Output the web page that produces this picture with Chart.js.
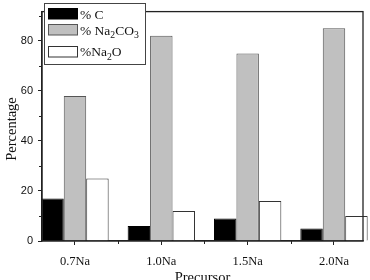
<!DOCTYPE html>
<html>
<head>
<meta charset="utf-8">
<script src="https://cdn.jsdelivr.net/npm/chart.js@4/dist/chart.umd.min.js"></script>
<style>
html,body{margin:0;padding:0;background:#fff;}
#wrap{width:370px;height:280px;position:relative;}
</style>
</head>
<body>
<div id="wrap"><canvas id="c" width="370" height="280"></canvas></div>
<script>
const categories = ['0.7Na', '1.0Na', '1.5Na', '2.0Na'];
const seriesNames = ['% C', '% Na2CO3', '%Na2O'];
const carbon = [17, 6, 9, 5];
const carbonate = [58, 82, 75, 85];
const oxide = [25, 12, 16, 10];
const yTickValues = [0, 20, 40, 60, 80];
const yMinorValues = [10, 30, 50, 70, 90];
const xTitle = 'Precursor';
const yTitle = 'Percentage';

const fills = ['#000000', '#c0c0c0', '#ffffff'];
const borders = ['#000000', '#555555', '#333333'];
const seriesValues = [carbon, carbonate, oxide];

const datasets = seriesValues.map((vals, k) => ({
  label: seriesNames[k],
  data: vals.map((v, i) => ({x: i, y: v})),
  backgroundColor: fills[k],
  borderColor: borders[k],
  borderWidth: 1,
  borderSkipped: 'bottom',
  clip: false
}));

function drawFormula(ctx, text, x, y, size) {
  let cx = x;
  const parts = text.match(/[A-Za-z%\s]+|\d+/g) || [];
  parts.forEach(p => {
    if (/^\d+$/.test(p)) {
      ctx.font = (size * 0.72) + 'px "Liberation Serif", serif';
      ctx.fillText(p, cx, y + size * 0.28);
      cx += ctx.measureText(p).width;
    } else {
      ctx.font = size + 'px "Liberation Serif", serif';
      ctx.fillText(p, cx, y);
      cx += ctx.measureText(p).width;
    }
  });
}

const decor = {
  id: 'decor',
  afterDatasetsDraw(chart) {
    const {ctx, chartArea: a, scales} = chart;
    ctx.save();
    ctx.strokeStyle = '#222';
    ctx.lineWidth = 1.3;
    ctx.strokeRect(a.left, a.top, a.right - a.left, a.bottom - a.top);
    ctx.lineWidth = 1;
    ctx.beginPath();
    yMinorValues.forEach(v => {
      const py = Math.round(scales.y.getPixelForValue(v)) + 0.5;
      if (py > a.top + 1) { ctx.moveTo(a.left - 3, py); ctx.lineTo(a.left, py); }
    });
    for (let i = 0; i < categories.length - 1; i++) {
      const px = Math.round(scales.x.getPixelForValue(i + 0.5)) + 0.5;
      ctx.moveTo(px, a.bottom); ctx.lineTo(px, a.bottom + 3);
    }
    ctx.stroke();
    const lx = 44.5, ly = 3.5, lw = 101, lh = 61;
    ctx.fillStyle = '#fff';
    ctx.fillRect(lx, ly, lw, lh);
    ctx.strokeStyle = '#444';
    ctx.lineWidth = 1;
    ctx.strokeRect(lx, ly, lw, lh);
    const rows = [{sy: 8.5, ty: 18.5}, {sy: 24.5, ty: 34.5}, {sy: 46.5, ty: 56}];
    rows.forEach((r, k) => {
      ctx.fillStyle = fills[k];
      ctx.fillRect(48.5, r.sy, 29, 10.5);
      ctx.strokeStyle = borders[k];
      ctx.strokeRect(48.5, r.sy, 29, 10.5);
      ctx.fillStyle = '#111';
      ctx.textBaseline = 'alphabetic';
      ctx.textAlign = 'left';
      drawFormula(ctx, seriesNames[k], 80, r.ty, 13.5);
    });
    ctx.fillStyle = '#111';
    ctx.font = '14.5px "Liberation Serif", serif';
    ctx.textAlign = 'center';
    ctx.textBaseline = 'alphabetic';
    ctx.fillText(xTitle, (a.left + a.right) / 2, 282);
    ctx.translate(16, 129);
    ctx.rotate(-Math.PI / 2);
    ctx.fillText(yTitle, 0, 0);
    ctx.restore();
  }
};

new Chart(document.getElementById('c'), {
  type: 'bar',
  data: {datasets},
  options: {
    responsive: false,
    animation: false,
    devicePixelRatio: 1,
    layout: {padding: {top: 1, right: 7, left: 0, bottom: 0}},
    plugins: {legend: {display: false}, tooltip: {enabled: false}},
    datasets: {bar: {categoryPercentage: 0.78, barPercentage: 1.0, grouped: true}},
    scales: {
      x: {
        type: 'linear',
        offset: false,
        min: -0.382,
        max: 3.336,
        afterBuildTicks: s => { s.ticks = categories.map((c, i) => ({value: i})); },
        afterFit: s => { s.height = 39; },
        ticks: {
          callback: (v) => categories[Math.round(v)] || '',
          font: {family: '"Liberation Serif", serif', size: 12.5},
          color: '#111',
          padding: 9,
          maxRotation: 0,
          autoSkip: false
        },
        grid: {offset: false, drawOnChartArea: false, tickLength: 4, color: '#222', tickColor: '#222'},
        border: {display: true, color: '#222', width: 1.3}
      },
      y: {
        type: 'linear',
        min: 0,
        max: 91.7,
        afterBuildTicks: s => { s.ticks = yTickValues.map(v => ({value: v})); },
        afterFit: s => { s.width = 42; },
        ticks: {
          font: {family: '"Liberation Sans", Arial, sans-serif', size: 11},
          color: '#111',
          padding: 5
        },
        grid: {drawOnChartArea: false, tickLength: 4, color: '#222', tickColor: '#222'},
        border: {display: true, color: '#222', width: 1.3}
      }
    }
  },
  plugins: [decor]
});
</script>
</body>
</html>
